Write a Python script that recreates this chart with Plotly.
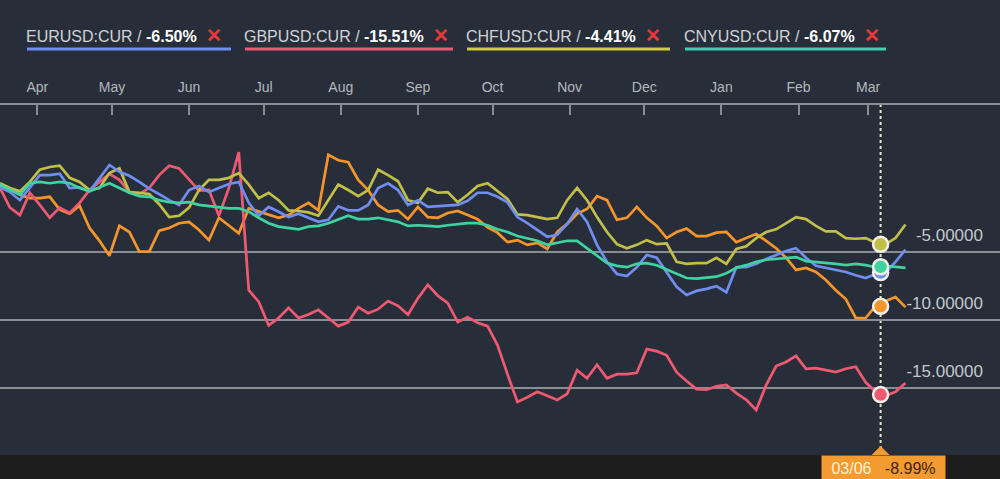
import pandas as pd
import plotly.graph_objects as go

# ---------------- data ----------------
start_date = "2016-03-17"
n_points = 92
dates = pd.date_range(start_date, periods=n_points, freq="4D")

eurusd = [-0.2, -0.55, -1.15, -0.25, 0.7, 0.7, 0.8, -0.25, -0.2, -0.5,
          0.5, 1.45, 0.95, 0.65, 0.2, -0.3, -0.7, -1.15, -1.5, -0.4,
          -0.1, -0.55, -0.25, 0.05, 0.2, -1.35, -2.3, -1.65, -2.0, -2.4,
          -2.15, -2.45, -2.75, -2.6, -1.6, -1.9, -1.9, -1.5, -0.25, 0.1,
          -0.4, -1.5, -1.15, -1.65, -1.6, -1.5, -1.5, -1.2, -0.6, -0.6,
          -0.9, -1.3, -2.4, -2.85, -3.35, -3.85, -3.7, -2.9, -1.8, -2.75,
          -4.45, -5.7, -6.6, -6.75, -6.1, -5.2, -5.4, -6.45, -7.55, -8.15,
          -7.85, -7.7, -7.5, -7.95, -6.1, -6.1, -5.85, -5.5, -5.2, -4.9,
          -4.7, -5.4, -6.0, -6.15, -6.3, -6.45, -6.7, -6.9, -6.6, -6.5,
          -5.7, -4.8]

gbpusd = [-0.25, -1.7, -2.25, -0.6, -1.5, -2.45, -1.7, -2.1, -1.35, -0.4,
          0.2, 0.8, 0.35, -0.55, -0.7, -0.25, 0.7, 1.4, 1.2, 0.35,
          -0.45, -0.4, -2.3, -0.25, 2.4, -7.8, -8.65, -10.4, -9.85, -9.1,
          -9.85, -9.6, -9.25, -9.85, -10.45, -10.15, -9.05, -9.5, -9.2, -8.6,
          -8.95, -9.6, -8.4, -7.4, -8.2, -8.75, -10.15, -9.8, -10.2, -10.45,
          -11.85, -14.0, -16.05, -15.7, -15.3, -15.6, -15.9, -15.45, -13.7, -14.3,
          -13.3, -14.3, -14.0, -14.0, -13.9, -12.15, -12.3, -12.6, -13.85, -14.5,
          -15.1, -15.15, -14.9, -14.8, -15.4, -15.9, -16.65, -14.8, -13.4, -13.1,
          -12.65, -13.6, -13.55, -13.7, -13.85, -13.6, -13.45, -14.6, -15.3, -15.6,
          -15.3, -14.65]

chfusd = [0.1, -0.25, -0.5, 0.2, 1.1, 1.3, 1.4, 0.5, 0.2, -0.4,
          -0.25, 0.85, 1.2, -0.55, -0.6, -0.7, -1.45, -2.4, -2.3, -1.7,
          -0.4, 0.35, 0.35, 0.5, 0.85, 0.0, -1.0, -0.6, -1.15, -1.9,
          -1.95, -2.05, -2.3, -1.15, 0.0, -0.4, -0.85, -0.4, 1.1, 0.7,
          0.25, -1.15, -1.35, -0.3, -0.6, -0.55, -1.3, -0.75, -0.1, 0.1,
          -0.5, -1.05, -2.2, -2.25, -2.4, -2.55, -2.45, -1.15, -0.25, -1.15,
          -2.4, -3.5, -4.4, -4.7, -4.45, -4.1, -4.4, -4.35, -5.7, -5.85,
          -5.8, -5.8, -5.4, -5.85, -4.75, -4.55, -3.95, -3.5, -3.3, -2.85,
          -2.4, -2.55, -3.05, -3.45, -3.45, -3.95, -4.0, -3.95, -4.3, -4.4,
          -3.95, -2.95]

cnyusd = [0.0, -0.4, -0.75, 0.1, 0.2, 0.1, 0.2, 0.1, -0.25, -0.5,
          -0.2, 0.1, -0.25, -0.6, -0.85, -0.9, -1.15, -1.3, -1.35, -1.3,
          -1.5, -1.6, -1.65, -1.75, -1.75, -2.0, -2.45, -2.85, -3.1, -3.2,
          -3.3, -3.1, -3.05, -2.85, -2.55, -2.3, -2.55, -2.55, -2.45, -2.6,
          -2.75, -3.05, -3.0, -3.05, -3.1, -3.0, -2.9, -2.85, -2.85, -3.0,
          -3.3, -3.5, -3.8, -4.0, -4.15, -4.45, -4.3, -4.15, -4.15, -4.7,
          -5.2, -5.8, -6.0, -6.1, -5.85, -5.8, -5.95, -6.25, -6.6, -6.9,
          -6.95, -6.9, -6.8, -6.55, -6.15, -5.95, -5.7, -5.55, -5.5, -5.4,
          -5.35, -5.65, -5.7, -5.8, -5.85, -5.95, -5.85, -5.95, -6.1, -6.0,
          -6.1, -6.15]

orange_series = [-0.2, -0.25, -0.75, -1.0, -1.0, -0.9, -1.85, -2.15, -1.55, -3.2,
                 -4.15, -5.25, -3.05, -3.5, -4.95, -4.95, -3.4, -3.2, -2.85, -2.75,
                 -3.35, -4.1, -2.45, -3.0, -3.6, -1.75, -2.0, -2.25, -2.45, -2.25,
                 -1.75, -1.35, -1.9, 2.2, 1.8, 1.65, 0.35, -0.4, -1.5, -2.0,
                 -1.9, -2.55, -1.65, -2.4, -2.45, -2.1, -1.95, -2.25, -2.55, -3.15,
                 -3.55, -4.25, -4.1, -4.45, -4.3, -4.75, -3.5, -2.9, -2.15, -1.8,
                 -0.85, -1.15, -2.6, -2.45, -1.65, -2.45, -3.05, -3.95, -3.5, -3.25,
                 -3.8, -3.8, -3.55, -3.5, -4.25, -3.95, -3.65, -4.15, -4.7, -5.4,
                 -6.3, -6.15, -6.45, -7.05, -7.8, -8.45, -9.85, -9.85, -8.95, -8.6,
                 -8.3, -9.05]

series_names = ["EURUSD:CUR", "GBPUSD:CUR", "CHFUSD:CUR", "CNYUSD:CUR"]
series_changes = ["-6.50%", "-15.51%", "-4.41%", "-6.07%"]

cursor_date = "2017-03-06"
cursor_label = "03/06"
cursor_value_label = "-8.99%"
cursor_values = {"EUR": -6.50, "GBP": -15.51, "CHF": -4.41, "CNY": -6.07, "ORANGE": -8.99}

y_ticks = [-5, -10, -15]
y_range = [-19.97, 5.88]
x_range = ["2016-03-17", "2017-04-23"]

# ---------------- style ----------------
BG = "#272e39"
GRID = "#8a8e94"
C_EUR = "#6f8ef0"
C_GBP = "#ef5a72"
C_CHF = "#c2bf48"
C_CNY = "#3ed3a0"
C_ORA = "#f6962a"
FONT = "Liberation Sans"

fig = go.Figure()

line_specs = [
    (orange_series, C_ORA, "orange"),
    (gbpusd, C_GBP, series_names[1]),
    (chfusd, C_CHF, series_names[2]),
    (eurusd, C_EUR, series_names[0]),
    (cnyusd, C_CNY, series_names[3]),
]
for vals, col, name in line_specs:
    fig.add_trace(go.Scatter(x=dates, y=vals, mode="lines", name=name,
                             line=dict(color=col, width=2.7), hoverinfo="skip"))

# cursor markers
marker_order = [("CHF", C_CHF), ("EUR", C_EUR), ("CNY", C_CNY), ("ORANGE", C_ORA), ("GBP", C_GBP)]
fig.add_trace(go.Scatter(
    x=[cursor_date] * len(marker_order),
    y=[cursor_values[k] for k, _ in marker_order],
    mode="markers",
    marker=dict(size=15, color=[c for _, c in marker_order],
                line=dict(color="#f4f1ea", width=2.5)),
    cliponaxis=False, hoverinfo="skip"))

shapes = []
# bottom dark strip
shapes.append(dict(type="rect", xref="paper", yref="paper", x0=0, x1=1, y0=-0.07, y1=0,
                   fillcolor="#1e1d1d", line=dict(width=0), layer="below"))
# vertical cursor line
shapes.append(dict(type="line", xref="x", yref="paper", x0=cursor_date, x1=cursor_date,
                   y0=0, y1=1, line=dict(color="#efe4c8", width=2, dash="dot"), layer="below"))
# tooltip notch
shapes.append(dict(type="path", xref="x", xsizemode="pixel", xanchor=cursor_date,
                   yref="paper", ysizemode="pixel", yanchor=0,
                   path="M-9,0 L0,9 L9,0 Z", fillcolor="#f39a30", line=dict(width=0)))

annotations = []
# legend items
legend_x = [0.027, 0.245, 0.467, 0.685]
legend_w = [0.204, 0.208, 0.203, 0.201]
legend_cols = [C_EUR, C_GBP, "#cfcb3c", "#3fd0b4"]
for name, chg, lx, lw, lc in zip(series_names, series_changes, legend_x, legend_w, legend_cols):
    annotations.append(dict(
        xref="paper", yref="paper", x=lx - 0.003, y=1.2, xanchor="left", yanchor="middle",
        showarrow=False,
        text=(f"<span style='color:#cfd2d7'>{name} / </span>"
              f"<b><span style='color:#ffffff'>{chg}</span></b>"
              f"  <b><span style='color:#e5393b;font-size:19px'>✕</span></b>"),
        font=dict(family=FONT, size=16)))
    shapes.append(dict(type="line", xref="paper", yref="paper", x0=lx, x1=lx + lw,
                       y0=1.16, y1=1.16, line=dict(color=lc, width=3)))

# tooltip box
annotations.append(dict(
    xref="x", yref="paper", x=cursor_date, y=0, xanchor="center", yanchor="top",
    xshift=3, showarrow=False, bgcolor="#f39a30", width=123, height=24, borderpad=0,
    text=(f"<span style='color:#fff1d6'>{cursor_label}</span>   "
          f"<span style='color:#3d2410'>{cursor_value_label}</span>"),
    font=dict(family=FONT, size=16)))

fig.update_layout(
    width=1000, height=479,
    margin=dict(l=0, r=0, t=105, b=24),
    paper_bgcolor=BG, plot_bgcolor=BG,
    showlegend=False,
    shapes=shapes, annotations=annotations,
    xaxis=dict(
        type="date", range=x_range, side="top",
        dtick="M1", tick0="2016-04-01", tickformat="%b",
        ticks="inside", ticklen=10, tickwidth=1.5, tickcolor=GRID,
        showline=True, linecolor=GRID, linewidth=1.5,
        showgrid=False, zeroline=False,
        tickfont=dict(family=FONT, size=14, color="#b4b8be"),
        ticklabelstandoff=6,
    ),
    yaxis=dict(
        range=y_range, side="right",
        tickvals=y_ticks, ticktext=[f"{v:.5f}" for v in y_ticks],
        ticklabelposition="inside", ticks="",
        showgrid=True, gridcolor=GRID, gridwidth=1.5,
        zeroline=False, showline=False,
        tickfont=dict(family=FONT, size=17, color="#c3c7cc"),
        ticklabelshift=-17, ticklabelstandoff=14,
    ),
)

fig.write_html("out.html")
